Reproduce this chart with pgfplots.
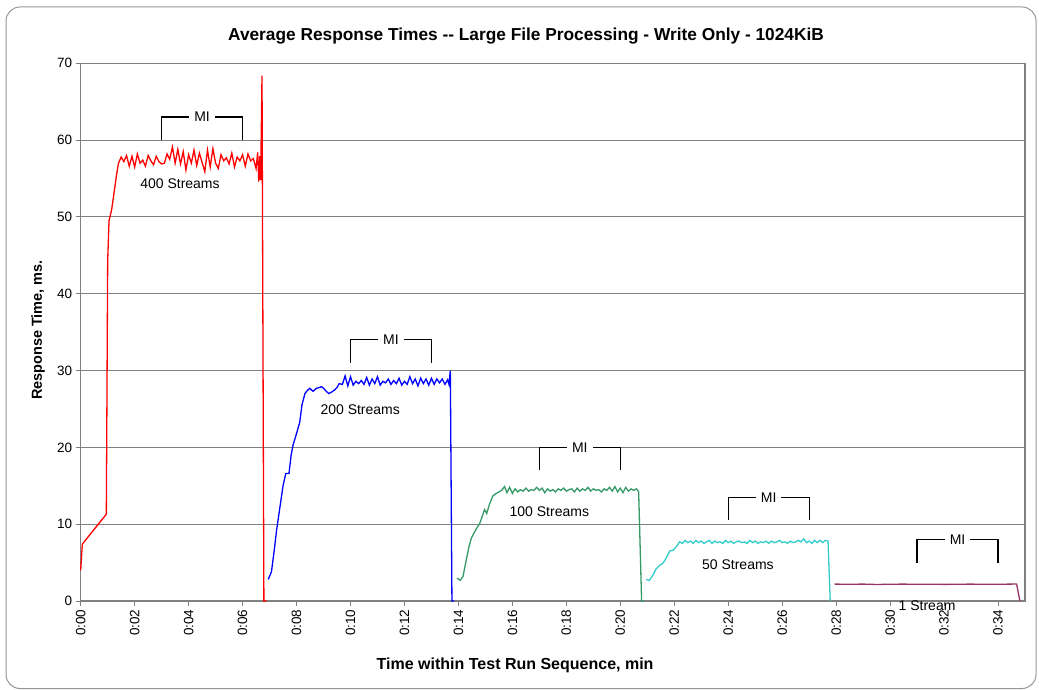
\documentclass[border=0pt]{standalone}
\usepackage{pgfplots}
\pgfplotsset{compat=1.18}
\usepackage{fontspec}
\setmainfont{Liberation Sans}
\definecolor{sred}{RGB}{255,0,0}
\definecolor{sblue}{RGB}{0,0,255}
\definecolor{sgreen}{RGB}{51,153,102}
\definecolor{scyan}{RGB}{51,204,204}
\definecolor{splum}{RGB}{153,51,102}
\definecolor{axgray}{RGB}{128,128,128}
\begin{document}
\begin{tikzpicture}
\useasboundingbox (0,0) rectangle (1039bp,690bp);
\draw[color={rgb,255:red,150;green,150;blue,150}, line width=1bp, rounded corners=14bp] (6bp,1.5bp) rectangle (1036bp,683bp);
\begin{axis}[
  at={(80.7bp,89bp)}, anchor=south west, scale only axis,
  width=944.3bp, height=537.7bp,
  xmin=0, xmax=35, ymin=0, ymax=70,
  xtick={0,2,...,34},
  xticklabels={0:00,0:02,0:04,0:06,0:08,0:10,0:12,0:14,0:16,0:18,0:20,0:22,0:24,0:26,0:28,0:30,0:32,0:34},
  ytick={0,10,...,70},
  ymajorgrids,
  major grid style={draw=axgray, line width=0.9bp},
  axis line style={draw=axgray, line width=1.1bp},
  tick align=outside, major tick length=5bp,
  tick style={draw=axgray, line width=0.9bp},
  xtick pos=bottom, ytick pos=left,
  /pgf/number format/assume math mode=true,
  tick label style={font=\fontsize{13.5bp}{15bp}\selectfont},
  x tick label style={rotate=90, anchor=east},
  title={Average Response Times -{}- Large File Processing - Write Only - 1024KiB},
  title style={at={(axis description cs:0.4716,1.0396)}, anchor=center, font=\bfseries\fontsize{17.3bp}{19bp}\selectfont},
  xlabel={Time within Test Run Sequence, min},
  xlabel style={at={(axis description cs:0.46,-0.119)}, anchor=center, font=\bfseries\fontsize{16bp}{18bp}\selectfont},
  ylabel={Response Time, ms.},
  ylabel style={at={(axis description cs:-0.0452,0.504)}, anchor=center, rotate=0, font=\bfseries\fontsize{14.5bp}{17bp}\selectfont},
  clip=false,
  every axis plot/.append style={line width=1.3bp, mark=none},
]
% 400 streams
\addplot[sred] table {
x y
0 4.0
0.06 7.4
0.95 11.3
1.0 44.3
1.05 49.5
1.15 51.0
1.25 53.5
1.33 55.5
1.40 57.0
1.5 57.8
1.6 57.2
1.7 58.0
1.8 56.6
1.9 57.9
2.0 56.5
2.1 58.2
2.2 57.0
2.3 57.4
2.4 56.6
2.5 58.0
2.6 57.3
2.7 56.8
2.8 57.9
2.9 57.2
3.0 56.9
3.1 57.0
3.2 58.2
3.3 57.5
3.4 59.1
3.5 57.0
3.6 58.8
3.7 56.9
3.8 58.5
3.9 56.1
4.0 58.1
4.1 57.0
4.2 58.7
4.3 56.7
4.4 58.3
4.5 57.1
4.6 55.9
4.7 58.7
4.8 56.5
4.9 58.9
5.0 57.0
5.1 56.3
5.2 58.1
5.3 57.3
5.4 57.7
5.5 56.9
5.6 58.3
5.7 56.5
5.8 57.8
5.9 57.3
6.0 58.1
6.1 56.6
6.2 58.2
6.3 57.3
6.4 57.6
6.5 56.3
6.56 58.4
6.60 54.6
6.64 57.9
6.67 54.8
6.72 68.4
6.79 0
6.89 0
};
% 200 streams
\addplot[sblue] table {
x y
6.95 2.8
7.07 3.8
7.17 6.5
7.26 9.2
7.40 12.6
7.50 15.0
7.60 16.6
7.72 16.6
7.80 19.0
7.87 20.3
8.00 21.8
8.12 23.3
8.20 25.5
8.31 27.0
8.40 27.4
8.49 27.7
8.61 27.3
8.74 27.7
8.86 27.8
8.92 27.9
9.00 27.7
9.10 27.3
9.20 27.0
9.30 27.2
9.42 27.5
9.50 27.8
9.58 28.3
9.7 28.2
9.8 29.3
9.9 28.0
10.0 29.2
10.1 28.1
10.2 28.6
10.3 28.3
10.4 28.7
10.5 28.2
10.6 29.1
10.7 28.1
10.8 28.9
10.9 28.3
11.0 29.2
11.1 28.1
11.2 28.6
11.3 28.4
11.4 28.9
11.5 28.2
11.6 28.7
11.7 28.3
11.8 29.0
11.9 28.1
12.0 28.6
12.1 28.2
12.2 29.2
12.3 28.3
12.4 28.9
12.5 28.0
12.6 29.0
12.7 28.3
12.8 28.9
12.9 28.1
13.0 29.0
13.1 28.2
13.2 28.9
13.3 28.4
13.4 28.9
13.5 28.2
13.6 28.8
13.65 28.2
13.70 30.0
13.76 0
13.84 0
};
% 100 streams
\addplot[sgreen] table {
x y
13.95 2.96
14.07 2.7
14.17 3.2
14.30 5.5
14.40 7.2
14.48 8.2
14.60 9.0
14.70 9.6
14.79 10.1
14.88 11.0
14.97 11.9
15.05 11.4
15.15 12.6
15.28 13.7
15.40 14.0
15.50 14.2
15.60 14.4
15.71 14.9
15.8 14.1
15.9 14.8
16.0 14.0
16.1 14.6
16.2 14.2
16.3 14.5
16.4 14.3
16.5 14.7
16.6 14.3
16.7 14.5
16.8 14.4
16.9 14.8
17.0 14.4
17.1 14.7
17.2 14.1
17.3 14.6
17.4 14.3
17.5 14.5
17.6 14.2
17.7 14.6
17.8 14.4
17.9 14.7
18.0 14.3
18.1 14.5
18.2 14.6
18.3 14.2
18.4 14.7
18.5 14.3
18.6 14.6
18.7 14.4
18.8 14.8
18.9 14.3
19.0 14.6
19.1 14.4
19.2 14.5
19.3 14.2
19.4 14.6
19.5 14.4
19.6 14.8
19.7 14.3
19.8 14.9
19.9 14.2
20.0 14.7
20.1 14.1
20.2 14.8
20.3 14.3
20.4 14.6
20.5 14.4
20.6 14.6
20.68 14.2
20.79 0
20.87 0
};
% 50 streams
\addplot[scyan] table {
x y
20.96 2.8
21.08 2.7
21.20 3.3
21.33 4.2
21.46 4.65
21.58 4.9
21.70 5.6
21.83 6.5
21.95 6.6
22.08 7.1
22.20 7.7
22.3 7.5
22.4 7.9
22.5 7.6
22.6 7.8
22.7 7.5
22.8 7.9
22.9 7.6
23.0 7.8
23.1 7.5
23.2 7.7
23.3 7.9
23.4 7.5
23.5 7.8
23.6 7.6
23.7 7.7
23.8 7.5
23.9 7.9
24.0 7.6
24.1 7.8
24.2 7.5
24.3 7.7
24.4 7.8
24.5 7.6
24.6 7.7
24.7 7.5
24.8 7.9
24.9 7.6
25.0 7.8
25.1 7.5
25.2 7.7
25.3 7.6
25.4 7.8
25.5 7.5
25.6 7.8
25.7 7.6
25.8 7.7
25.9 7.9
26.0 7.6
26.1 7.7
26.2 7.5
26.3 7.8
26.4 7.6
26.5 7.7
26.6 7.9
26.7 7.7
26.8 8.1
26.9 7.6
27.0 7.8
27.1 7.5
27.2 7.9
27.3 7.6
27.4 7.9
27.5 7.6
27.6 7.9
27.70 7.8
27.78 0
};
% 1 stream
\addplot[splum] table {
x y
27.94 2.20
28.50 2.18
29.00 2.20
29.50 2.15
30.00 2.18
30.50 2.20
31.00 2.17
31.50 2.19
32.00 2.16
32.50 2.18
33.00 2.20
33.50 2.17
34.00 2.18
34.50 2.20
34.69 2.20
34.81 0
};
% MI brackets
\addplot[black, line width=1.3bp] coordinates {(3,60) (3,63) (6,63) (6,60)};
\addplot[black, line width=1.3bp] coordinates {(10,31) (10,34) (13,34) (13,31)};
\addplot[black, line width=1.3bp] coordinates {(17,17) (17,20) (20,20) (20,17)};
\addplot[black, line width=1.3bp] coordinates {(24,10.5) (24,13.5) (27,13.5) (27,10.5)};
\addplot[black, line width=1.3bp] coordinates {(31,5) (31,8) (34,8) (34,5)};
\tikzset{mi/.style={fill=white, inner xsep=5bp, inner ysep=1bp, font=\fontsize{14bp}{16bp}\selectfont},
         sl/.style={font=\fontsize{14bp}{16bp}\selectfont}}
\node[mi] at (axis cs:4.5,63) {MI};
\node[mi] at (axis cs:11.5,34) {MI};
\node[mi] at (axis cs:18.5,20) {MI};
\node[mi] at (axis cs:25.5,13.5) {MI};
\node[mi] at (axis cs:32.5,8) {MI};
\node[sl] at (axis cs:3.68,54.3) {400 Streams};
\node[sl] at (axis cs:10.36,24.9) {200 Streams};
\node[sl] at (axis cs:17.37,11.6) {100 Streams};
\node[sl] at (axis cs:24.36,4.7) {50 Streams};
\node[sl] at (axis cs:31.37,-0.55) {1 Stream};
\end{axis}
\end{tikzpicture}
\end{document}
